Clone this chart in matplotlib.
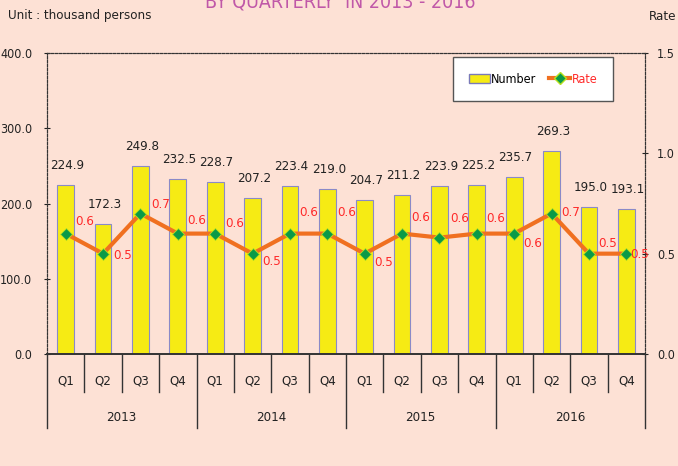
import matplotlib.pyplot as plt
from matplotlib.lines import Line2D
from matplotlib.patches import Patch
import numpy as np

plt.rcParams['font.family'] = ['DejaVu Sans']
plt.rcParams['font.stretch'] = 'condensed'

years = ["2013", "2014", "2015", "2016"]
quarters = ["Q1", "Q2", "Q3", "Q4"]
number = [224.9, 172.3, 249.8, 232.5, 228.7, 207.2, 223.4, 219.0,
          204.7, 211.2, 223.9, 225.2, 235.7, 269.3, 195.0, 193.1]
rate = [0.6, 0.5, 0.7, 0.6, 0.6, 0.5, 0.6, 0.6,
        0.5, 0.6, 0.58, 0.6, 0.6, 0.7, 0.5, 0.5]

bg = "#fde1d5"
txt = "#222222"
fig = plt.figure(figsize=(6.78, 4.66), dpi=100, facecolor=bg)
ax = fig.add_axes([47/678, 1-354/466, 598/678, 301/466])
ax.set_facecolor(bg)
ax2 = ax.twinx()

x = np.arange(len(number))
ax.bar(x, number, width=0.45, color="#f6eb14", edgecolor="#8a8ac8", linewidth=0.8, zorder=2)
for xi, v in zip(x, number):
    ax.annotate(f"{v:.1f}", (xi, v), xytext=(1, 14), textcoords="offset points",
                ha="center", va="center", fontsize=9.5, color=txt)

ax2.plot(x, rate, color="#f07020", linewidth=3, marker="D", markersize=6,
         markerfacecolor="#0a9a48", markeredgecolor="#b8e020", markeredgewidth=0.6, zorder=3)
# label placement (pixel offsets) per point
offs = [(19, 12), (20, -2), (20, 9), (19, 13), (19, 10), (19, -8), (19, 21), (19, 21),
        (19, -9), (19, 16), (20, 19), (19, 15), (19, -10), (19, 1), (19, 10), (13, -1)]
for xi, r, (dx, dy) in zip(x, rate, offs):
    ax2.annotate(f"{r:.1f}", (xi, r), xytext=(dx*0.72, dy*0.72), textcoords="offset points",
                 ha="center", va="center", fontsize=9.5, color="#ff2a2a", zorder=4)

ax.set_xlim(-0.5, len(number)-0.5)
ax.set_ylim(0, 400)
ax2.set_ylim(0, 1.5)
ax.set_yticks(np.arange(0, 401, 100))
ax.set_yticklabels([f"{v:.1f}" for v in np.arange(0, 401, 100)], fontsize=9)
ax2.set_yticks([0, 0.5, 1.0, 1.5])
ax2.set_yticklabels(["0.0", "0.5", "1.0", "1.5"], fontsize=9)
ax.set_xticks([])
ax.tick_params(axis="y", direction="inout", length=5, width=0.8, pad=8, colors=txt)
ax2.tick_params(axis="y", direction="inout", length=5, width=0.8, pad=6, colors=txt)

for a in (ax, ax2):
    for s in ("left", "right", "top"):
        a.spines[s].set_linestyle((0, (2, 1.5)))
        a.spines[s].set_linewidth(0.8)
        a.spines[s].set_color("#333333")
    a.spines["bottom"].set_color("#333333")
    a.spines["bottom"].set_linewidth(1.2)

# category axis
tr = ax.get_xaxis_transform()
for i in range(len(number) + 1):
    xb = i - 0.5
    if i % 4 == 0:
        ax.add_line(Line2D([xb, xb], [0, -0.245], transform=tr, color="#333333", lw=1, clip_on=False))
    else:
        ax.add_line(Line2D([xb, xb], [0, -0.125], transform=tr, color="#333333", lw=1, clip_on=False))
for i in range(len(number)):
    ax.text(i, -0.09, quarters[i % 4], transform=tr, ha="center", va="center", fontsize=9.5, color=txt)
for j, y in enumerate(years):
    ax.text(j*4 + 1.5, -0.21, y, transform=tr, ha="center", va="center", fontsize=9.5, color=txt)

fig.text(8/678, 1-16/466, "Unit : thousand persons", ha="left", va="center", fontsize=9.5, color=txt)
fig.text(676/678, 1-16/466, "Rate", ha="right", va="center", fontsize=9.5, color=txt)
fig.text(340/678, 1-8/466, "BY QUARTERLY  IN 2013 - 2016", ha="center", va="baseline",
         fontsize=14, color="#c058a8")

handles = [Patch(facecolor="#f6eb14", edgecolor="#7a7ab8", linewidth=1),
           Line2D([], [], color="#f07020", linewidth=3, marker="D", markersize=6,
                  markerfacecolor="#0a9a48", markeredgecolor="#b8e020")]
leg = fig.legend(handles, ["Number", "Rate"], loc="upper right",
                 bbox_to_anchor=(613/678, 1-57/466),
                 ncol=2, frameon=True, fancybox=False, fontsize=9, borderpad=1.25,
                 borderaxespad=0, handlelength=1.7, handleheight=0.8, handletextpad=0.1,
                 columnspacing=1.0)
leg.get_frame().set_edgecolor("#555555")
leg.get_frame().set_linewidth(1)
leg.get_frame().set_alpha(1)
leg.get_texts()[1].set_color("#ff2a2a")

fig.savefig("out.png", dpi=100, facecolor=bg)
